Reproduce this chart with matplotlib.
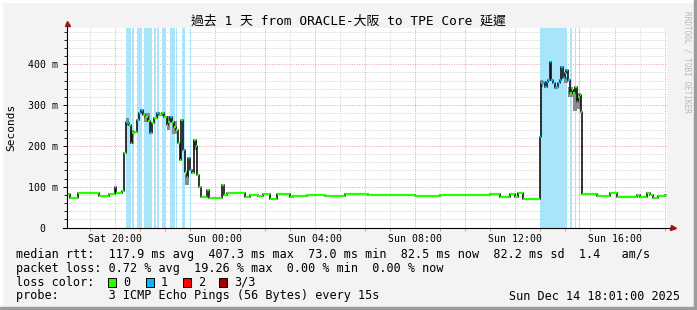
import numpy as np
import matplotlib
matplotlib.use("Agg")
import matplotlib.pyplot as plt
from matplotlib.patches import Rectangle

# ---------------- data ----------------
# time = hours since Sat 00:00 ; median rtt (ms) is a step series
t_med = [18.00, 18.19, 18.52, 19.36, 19.76, 19.97, 20.03, 20.26, 20.35, 20.41,
         20.50, 20.56, 20.62, 20.68, 20.75, 20.85, 20.95, 21.01, 21.10, 21.20,
         21.30, 21.40, 21.48, 21.56, 21.65, 21.75, 21.85, 21.95, 22.05, 22.12,
         22.20, 22.28, 22.35, 22.43, 22.50, 22.57, 22.62, 22.70, 22.77, 22.85,
         22.92, 23.00, 23.08, 23.15, 23.22, 23.28, 23.35, 23.42, 23.68, 23.74,
         24.28, 24.33, 24.46, 25.19, 25.39, 25.70, 25.90, 26.19, 26.46, 27.00,
         27.10, 27.66, 28.40, 29.20, 30.10, 31.00, 32.00, 33.00, 34.00, 35.00,
         35.39, 35.79, 35.99, 36.11, 36.31, 36.97, 37.03, 37.12, 37.19, 37.25,
         37.32, 37.39, 37.43, 37.52, 37.59, 37.66, 37.72, 37.79, 37.83, 37.90,
         37.99, 38.03, 38.12, 38.19, 38.26, 38.32, 38.39, 38.46, 38.52, 38.59,
         38.63, 38.66, 39.27, 39.79, 40.06, 40.86, 41.00, 41.26, 41.39, 41.52,
         41.70, 41.99]
v_med = [82, 72, 84, 77, 82, 99, 85, 90, 182, 258,
         255, 250, 207, 231, 234, 263, 280, 288, 275, 271,
         260, 231, 256, 268, 280, 275, 280, 271, 251, 258,
         271, 258, 247, 239, 207, 165, 263, 190, 136, 124,
         170, 141, 133, 214, 200, 129, 99, 75, 92, 73,
         105, 80, 84, 75, 80, 78, 81, 70, 82, 75,
         76, 80, 78, 81, 79, 80, 78, 80, 79, 81,
         75, 82, 75, 84, 71, 222, 354, 357, 345, 357,
         361, 406, 361, 354, 342, 345, 354, 361, 394, 366,
         378, 386, 361, 330, 337, 330, 345, 308, 320, 325,
         284, 82, 76, 84, 75, 79, 75, 84, 79, 72,
         76, 80]
loss_med = [0, 0, 0, 0, 0, 0, 0, 0, 0, 1,
            1, 0, 0, 0, 0, 1, 1, 1, 0, 0,
            0, 1, 0, 0, 1, 0, 0, 0, 0, 0,
            1, 0, 0, 0, 0, 0, 0, 1, 0, 0,
            1, 1, 0, 0, 0, 0, 0, 0, 0, 0,
            0, 0, 0, 0, 0, 0, 0, 0, 0, 0,
            0, 0, 0, 0, 0, 0, 0, 0, 0, 0,
            0, 0, 0, 0, 0, 1, 1, 1, 1, 1,
            1, 1, 1, 1, 1, 1, 1, 1, 1, 1,
            1, 1, 1, 0, 0, 0, 0, 0, 0, 0,
            0, 0, 0, 0, 0, 0, 0, 0, 0, 0,
            0, 0]
t_end = 42.07

# periods with packet loss (light blue background)
loss_bar_start = [20.43, 20.67, 20.87, 21.15, 21.56, 21.68, 21.87, 22.19, 22.44, 22.67,
                  23.00, 36.99, 38.20, 38.38, 38.54]
loss_bar_end = [20.62, 20.74, 21.06, 21.46, 21.62, 21.75, 22.03, 22.39, 22.48, 22.79,
                23.04, 38.08, 38.26, 38.43, 38.59]

# smoke (spread of individual pings)
smoke_start = [20.41, 20.60, 21.15, 22.05, 22.25, 22.80, 23.10, 37.00, 37.95, 38.10, 38.30, 38.48]
smoke_end = [20.56, 20.75, 21.40, 22.20, 22.45, 22.95, 23.25, 37.10, 38.10, 38.30, 38.48, 38.63]
smoke_lo = [248, 205, 258, 240, 230, 104, 190, 345, 355, 320, 285, 290]
smoke_hi = [268, 240, 280, 272, 262, 130, 215, 362, 368, 345, 340, 330]

x_ticks = [20, 24, 28, 32, 36, 40]
x_labels = ["Sat 20:00", "Sun 00:00", "Sun 04:00", "Sun 08:00", "Sun 12:00", "Sun 16:00"]
y_ticks = [0, 100, 200, 300, 400]
y_labels = ["0  ", "100 m", "200 m", "300 m", "400 m"]

loss_colors = ["#26ff00", "#00b8ff", "#ff0000", "#a00000"]
loss_names = ["0", "1", "2", "3/3"]

# ---------------- figure ----------------
W, H = 697, 310
fig = plt.figure(figsize=(W / 100, H / 100), dpi=100)
fig.patch.set_facecolor("#f3f3f3")

def fx(x):
    return x / W

def fy(y):
    return 1 - y / H

# frame shading
fig.patches.append(Rectangle((0, 0), fx(2), 1, transform=fig.transFigure, color="#ffffff", zorder=0))
fig.patches.append(Rectangle((0, fy(2)), 1, 2 / H, transform=fig.transFigure, color="#ffffff", zorder=0))
fig.patches.append(Rectangle((fx(694), 0), fx(3), 1, transform=fig.transFigure, color="#9c9c9c", zorder=0))
fig.patches.append(Rectangle((0, 0), 1, 3 / H, transform=fig.transFigure, color="#9c9c9c", zorder=0))

L, R, T, B = 67, 667, 27.5, 227.5
ax = fig.add_axes([fx(L), fy(B), fx(R - L), (B - T) / H])
ax.set_facecolor("white")
ax.set_xlim(18.068, 42.068)
ax.set_ylim(0, 490)
for s in ax.spines.values():
    s.set_visible(False)

# loss bars
for a, b in zip(loss_bar_start, loss_bar_end):
    ax.axvspan(a, b, color="#a8e4fa", lw=0, zorder=2)

# grid
for yv in np.arange(20, 490, 20):
    if yv % 100 == 0:
        ax.axhline(yv, color="#e6a0a0", lw=0.7, ls=(0, (1, 1.5)), zorder=1)
    else:
        ax.axhline(yv, color="#d2d2d2", lw=0.7, ls=(0, (1, 1.5)), zorder=1)
for xv in np.arange(19, 43, 1):
    if xv % 2 == 0:
        ax.axvline(xv, color="#e6a0a0", lw=0.7, ls=(0, (1, 1.5)), zorder=1)
    else:
        ax.axvline(xv, color="#d2d2d2", lw=0.7, ls=(0, (1, 1.5)), zorder=1)

# smoke
for a, b, lo, hi in zip(smoke_start, smoke_end, smoke_lo, smoke_hi):
    ax.fill_between([a, b], [lo, lo], [hi, hi], color="#8a8a8a", lw=0, zorder=3)

# median: black step line then loss-coloured horizontal segments
tt = list(t_med) + [t_end]
vv = list(v_med) + [v_med[-1]]
ax.step(tt, vv, where="post", color="#111111", lw=1.2, zorder=4)
for i in range(len(t_med)):
    ax.plot([tt[i], tt[i + 1]], [v_med[i], v_med[i]], color=loss_colors[loss_med[i]],
            lw=1.6, solid_capstyle="butt", zorder=5)

# axes lines
ax.plot([18.068 - 0.16, 42.068 + 0.1], [0, 0], color="black", lw=0.8, clip_on=False, zorder=6)
ax.plot([18.068, 18.068], [0, 500], color="black", lw=0.8, clip_on=False, zorder=6)
ax.plot([18.068], [502], marker="^", color="#a01010", ms=3.6, clip_on=False, zorder=7)
ax.plot([42.068 + 0.22], [0], marker=">", color="#a01010", ms=3.6, clip_on=False, zorder=7)

# ticks
ax.set_xticks(x_ticks)
ax.set_xticklabels(x_labels, family="DejaVu Sans Mono", fontsize=7.1)
ax.set_yticks(y_ticks)
ax.set_yticklabels(y_labels, family="DejaVu Sans Mono", fontsize=7.1)
ax.tick_params(axis="x", length=0, pad=4.5)
ax.tick_params(axis="y", length=3, pad=3.5, width=0.7, direction="out")
ax.set_yticks(np.arange(20, 490, 20), minor=True)
ax.tick_params(axis="y", which="minor", length=2, width=0.6)
ax.set_xticks(np.arange(19, 43, 1), minor=True)
ax.tick_params(axis="x", which="minor", length=2, width=0.6, color="#e08080")

# texts
mono = "DejaVu Sans Mono"
fig.text(fx(348.5), fy(21), "過去 1 天 from ORACLE-大阪 to TPE Core 延遲",
         family=[mono, "Noto Sans CJK TC"], fontsize=9.3, ha="center", va="center")
fig.text(fx(11), fy(127), "Seconds", family=mono, fontsize=8, rotation=90,
         ha="center", va="center")
fig.text(fx(687), fy(62), "RRDTOOL / TOBI OETIKER", family=mono, fontsize=5.6,
         rotation=270, ha="center", va="center", color="#b8b8b8")

fs = 8.5
fig.text(fx(16), fy(254.3), "median rtt:  117.9 ms avg  407.3 ms max  73.0 ms min  82.5 ms now  82.2 ms sd  1.4   am/s",
         family=mono, fontsize=fs, va="center")
fig.text(fx(16), fy(268.3), "packet loss: 0.72 % avg  19.26 % max  0.00 % min  0.00 % now",
         family=mono, fontsize=fs, va="center")
fig.text(fx(16), fy(282.3), "loss color:", family=mono, fontsize=fs, va="center")
sq_x = [108.3, 145.7, 182.7, 219.3]
for xq, c, name in zip(sq_x, loss_colors, loss_names):
    fig.patches.append(Rectangle((fx(xq), fy(286.7)), fx(8), 8.4 / H, transform=fig.transFigure,
                                 facecolor=c, edgecolor="black", lw=0.7))
    fig.text(fx(xq + 15), fy(282.3), name, family=mono, fontsize=fs, va="center")
fig.text(fx(16), fy(296), "probe:       3 ICMP Echo Pings (56 Bytes) every 15s",
         family=mono, fontsize=fs, va="center")
fig.text(fx(680), fy(296), "Sun Dec 14 18:01:00 2025", family=mono, fontsize=fs,
         va="center", ha="right")

fig.savefig("out.png", dpi=100, facecolor=fig.get_facecolor())
